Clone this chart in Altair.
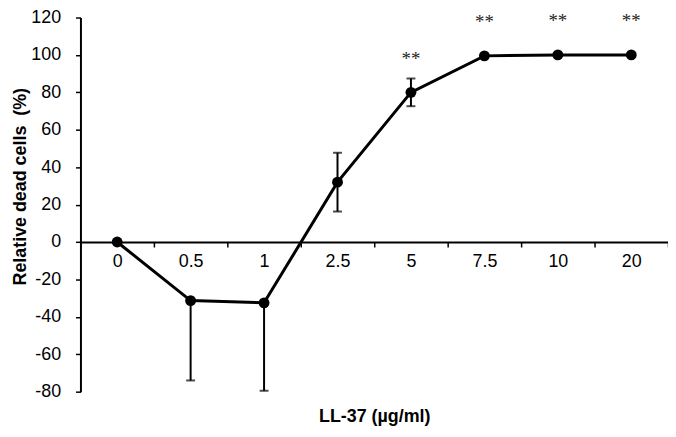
import altair as alt
import pandas as pd

conc = ["0", "0.5", "1", "2.5", "5", "7.5", "10", "20"]
dead = [0.0, -31.3, -32.5, 32.0, 80.0, 99.5, 100.0, 100.0]
err_down = [0.0, 42.7, 47.0, 15.7, 7.4, 0.0, 0.0, 0.0]
err_up = [0.0, 0.0, 0.0, 15.7, 7.4, 0.0, 0.0, 0.0]
sig = ["", "", "", "", "**", "**", "**", "**"]
y_ticks = [-80, -60, -40, -20, 0, 20, 40, 60, 80, 100, 120]

df = pd.DataFrame({
    "conc": conc,
    "dead": dead,
    "ed": err_down,
    "eu": err_up,
    "lo": [d - e for d, e in zip(dead, err_down)],
    "hi": [d + e for d, e in zip(dead, err_up)],
    "sig": sig,
})

FONT = "Liberation Sans"
W, H = 592, 377

x_enc = alt.X(
    "conc:N",
    sort=conc,
    scale=alt.Scale(paddingInner=0, paddingOuter=0),
    axis=alt.Axis(
        title="LL-37 (µg/ml)",
        offset=-H * 0.4,
        labelAngle=0,
        tickBand="extent",
        tickSize=5,
        tickWidth=1.5,
        tickColor="black",
        domainColor="black",
        domainWidth=2,
        labelFont=FONT,
        labelFontSize=18,
        labelColor="black",
        labelPadding=6,
        titleFont=FONT,
        titleFontSize=18,
        titleFontWeight="bold",
        titleColor="black",
        titleY=176,
        titleBaseline="middle",
        grid=False,
    ),
)

y_scale = alt.Scale(domain=[-80, 120], nice=False, zero=False)
y_axis = alt.Axis(
    values=y_ticks,
    labelExpr="'' + datum.value",
    title="Relative dead cells \u00a0(%)",
    titleFont=FONT,
    titleFontSize=18,
    titleFontWeight="bold",
    titleColor="black",
    titleX=-51,
    titleY=170,
    labelFont=FONT,
    labelFontSize=18,
    labelColor="black",
    labelPadding=15,
    tickSize=5,
    tickWidth=1.5,
    tickColor="black",
    domainColor="black",
    domainWidth=2,
    grid=False,
)

base = alt.Chart(df)

line = base.mark_line(color="black", strokeWidth=3).encode(
    x=x_enc, y=alt.Y("dead:Q", scale=y_scale, axis=y_axis)
)
rules = base.transform_filter("datum.ed > 0 || datum.eu > 0").mark_rule(
    color="black", strokeWidth=2
).encode(x=x_enc, y=alt.Y("lo:Q", scale=y_scale, axis=y_axis), y2="hi:Q")
caps_lo = base.transform_filter("datum.ed > 0").mark_tick(
    color="black", size=9, thickness=2
).encode(x=x_enc, y=alt.Y("lo:Q", scale=y_scale, axis=y_axis))
caps_hi = base.transform_filter("datum.eu > 0").mark_tick(
    color="black", size=9, thickness=2
).encode(x=x_enc, y=alt.Y("hi:Q", scale=y_scale, axis=y_axis))
points = base.mark_circle(color="black", size=120, opacity=1).encode(
    x=x_enc, y=alt.Y("dead:Q", scale=y_scale, axis=y_axis)
)
stars = base.mark_text(
    dy=-34, font="Liberation Serif", fontSize=19, color="#222", baseline="middle"
).encode(x=x_enc, y=alt.Y("dead:Q", scale=y_scale, axis=y_axis), text="sig:N")

chart = (
    alt.layer(line, rules, caps_lo, caps_hi, points, stars)
    .properties(
        width=W,
        height=H,
        padding={"left": 73, "top": 8, "right": 0, "bottom": 34},
        autosize=alt.AutoSizeParams(type="none"),
    )
    .configure_view(strokeWidth=0)
)

chart.save("out.html", embed_options={"renderer": "svg", "actions": False})
